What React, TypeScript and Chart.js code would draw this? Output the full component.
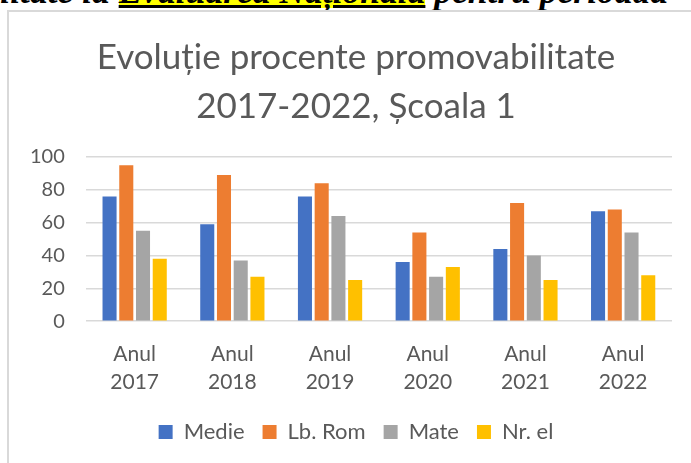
import React, { useEffect, useRef } from "react";
import { Chart, registerables } from "chart.js";

Chart.register(...registerables);

const categories: string[][] = [
  ["Anul", "2017"],
  ["Anul", "2018"],
  ["Anul", "2019"],
  ["Anul", "2020"],
  ["Anul", "2021"],
  ["Anul", "2022"],
];
const medie = [76, 59, 76, 36, 44, 67];
const lbRom = [95, 89, 84, 54, 72, 68];
const mate = [55, 37, 64, 27, 40, 54];
const nrEl = [38, 27, 25, 33, 25, 28];
const seriesNames = ["Medie", "Lb. Rom", "Mate", "Nr. el"];
const seriesColors = ["#4472C4", "#ED7D31", "#A5A5A5", "#FFC000"];
const titleLines = ["Evoluție procente promovabilitate", "2017-2022, Școala 1"];

const FONT = "Lato, 'Noto Sans', sans-serif";
const TEXT = "#595959";

export default function App() {
  const ref = useRef<HTMLCanvasElement | null>(null);

  useEffect(() => {
    if (!ref.current) return;
    const data = [medie, lbRom, mate, nrEl];
    const chart = new Chart(ref.current, {
      type: "bar",
      data: {
        labels: categories,
        datasets: data.map((d, i) => ({
          label: seriesNames[i],
          data: d,
          backgroundColor: seriesColors[i],
          borderWidth: 0,
          categoryPercentage: 0.685,
          barPercentage: 0.84,
          yAxisID: "y",
        })),
      },
      options: {
        animation: false,
        responsive: false,
        devicePixelRatio: 1,
        layout: { padding: { left: 0, right: 0, top: 0, bottom: 14 } },
        plugins: {
          title: {
            display: true,
            text: titleLines,
            color: TEXT,
            font: { family: FONT, size: 35, weight: "normal", lineHeight: 1.4 },
            padding: { top: 21, bottom: 26 },
          },
          legend: {
            position: "bottom",
            labels: {
              color: TEXT,
              font: { family: FONT, size: 22 },
              boxWidth: 14,
              boxHeight: 14,
              padding: 18,
            },
          },
          tooltip: { enabled: false },
        },
        scales: {
          x: {
            grid: { display: false, drawTicks: false },
            border: { display: false },
            ticks: {
              color: TEXT,
              font: { family: FONT, size: 21, lineHeight: 1.33 },
              padding: 19,
              maxRotation: 0,
            },
            afterFit: (s: any) => {
              s.height -= 12;
            },
          },
          y: {
            min: 0,
            max: 100,
            ticks: {
              stepSize: 20,
              color: TEXT,
              font: { family: FONT, size: 20 },
              padding: 21,
            },
            grid: { color: "#d9d9d9", lineWidth: 1.5, drawTicks: false },
            border: { display: false },
          },
          yRight: {
            position: "right",
            display: true,
            grid: { display: false, drawTicks: false },
            border: { display: false },
            ticks: { display: false },
            afterFit: (s: any) => {
              s.width = 31;
            },
          },
        },
      },
    });
    return () => chart.destroy();
  }, []);

  return (
    <div
      style={{
        position: "fixed",
        left: 0,
        top: 0,
        width: 691,
        height: 463,
        overflow: "hidden",
        background: "#fff",
      }}
    >
      <div
        style={{
          position: "absolute",
          right: 23,
          top: -30,
          whiteSpace: "nowrap",
          fontFamily: "'Liberation Serif', 'Times New Roman', serif",
          fontWeight: "bold",
          fontStyle: "italic",
          fontSize: 35.5,
          color: "#000",
        }}
      >
        promovabilitate  la{" "}
        <span
          style={{
            display: "inline-block",
            lineHeight: 0.9,
            background: "#FFFF00",
            textDecoration: "underline",
          }}
        >
          Evaluarea Națională
        </span>{" "}
        pentru perioada
      </div>
      <div
        style={{
          position: "absolute",
          left: 7,
          top: 10,
          width: 700,
          height: 470,
          border: "2px solid #d9d9d9",
          boxSizing: "border-box",
          background: "#fff",
        }}
      />
      <canvas
        ref={ref}
        width={694}
        height={455}
        style={{ position: "absolute", left: 9, top: 12, width: 694, height: 455 }}
      />
    </div>
  );
}
